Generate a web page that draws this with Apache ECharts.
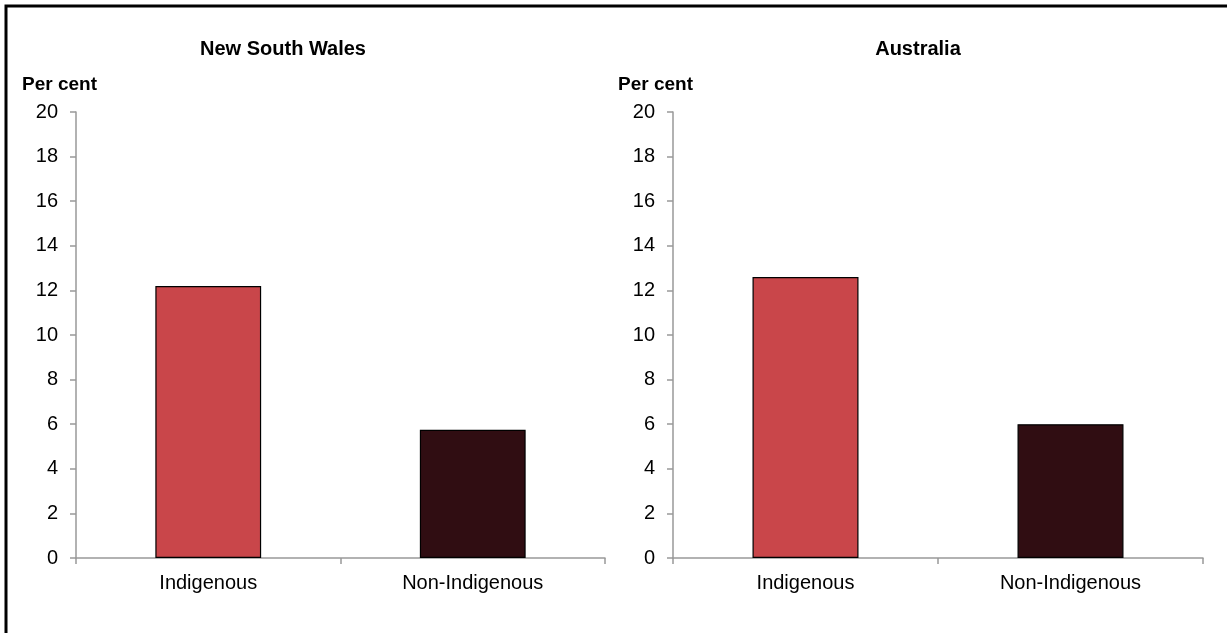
<!DOCTYPE html>
<html>
<head>
<meta charset="utf-8">
<script src="https://cdn.jsdelivr.net/npm/echarts@6/dist/echarts.min.js"></script>
<style>html,body{margin:0;padding:0;background:#fff}#c{width:1227px;height:633px}</style>
</head>
<body>
<div id="c"></div>
<script>
const categories = ['Indigenous', 'Non-Indigenous'];
const nswValues = [12.2, 5.75];
const ausValues = [12.6, 6.0];
const panelTitles = ['New South Wales', 'Australia'];
const yAxisName = 'Per cent';
const barColors = ['#C9464A', '#300D12'];

const FONT = 'Liberation Sans, Arial, sans-serif';
const chart = echarts.init(document.getElementById('c'));

function xAxisFor(idx) {
  return {
    type: 'category', gridIndex: idx, data: categories,
    axisLine: {lineStyle: {color: '#999', width: 1.5}},
    axisTick: {show: true, alignWithLabel: false, length: 6, lineStyle: {color: '#999', width: 1.5}},
    axisLabel: {color: '#000', fontSize: 20, fontFamily: FONT, margin: 15}
  };
}
function yAxisFor(idx) {
  return {
    type: 'value', gridIndex: idx, min: 0, max: 20, interval: 2,
    axisLine: {show: true, lineStyle: {color: '#999', width: 1.5}},
    axisTick: {show: true, length: 6, lineStyle: {color: '#999', width: 1.5}},
    axisLabel: {color: '#000', fontSize: 20, fontFamily: FONT, margin: 18},
    splitLine: {show: false}
  };
}
function seriesFor(idx, values) {
  return {
    type: 'bar', xAxisIndex: idx, yAxisIndex: idx, barWidth: '40%',
    data: values.map((v, i) => ({value: v, itemStyle: {color: barColors[i]}})),
    itemStyle: {borderColor: '#000', borderWidth: 1.2},
    silent: true, animation: false
  };
}

chart.setOption({
  animation: false,
  title: [
    {text: panelTitles[0], left: 278, top: 34, textAlign: 'center',
     textStyle: {fontSize: 20, fontWeight: 'bold', color: '#000', fontFamily: FONT}},
    {text: panelTitles[1], left: 913, top: 34, textAlign: 'center',
     textStyle: {fontSize: 20, fontWeight: 'bold', color: '#000', fontFamily: FONT}},
    {text: yAxisName, left: 17, top: 70,
     textStyle: {fontSize: 19, fontWeight: 'bold', color: '#000', fontFamily: FONT}},
    {text: yAxisName, left: 613, top: 70,
     textStyle: {fontSize: 19, fontWeight: 'bold', color: '#000', fontFamily: FONT}}
  ],
  grid: [
    {left: 76, right: 622, top: 112, bottom: 75},
    {left: 673, right: 24, top: 112, bottom: 75}
  ],
  xAxis: [xAxisFor(0), xAxisFor(1)],
  yAxis: [yAxisFor(0), yAxisFor(1)],
  series: [seriesFor(0, nswValues), seriesFor(1, ausValues)],
  graphic: [{
    type: 'rect', silent: true,
    shape: {x: 6, y: 6, width: 1400, height: 800},
    style: {fill: 'none', stroke: '#000', lineWidth: 3}
  }]
});
</script>
</body>
</html>
